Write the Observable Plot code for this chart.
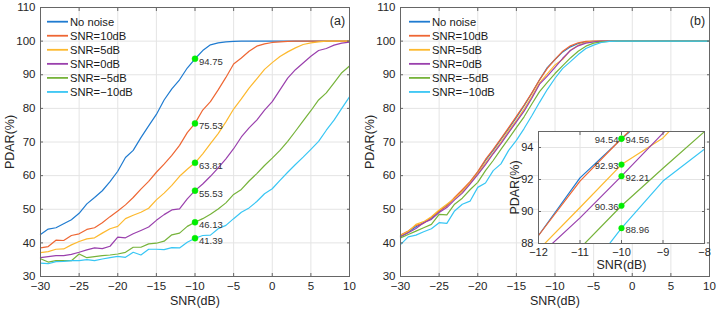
<!DOCTYPE html>
<html>
<head>
<meta charset="utf-8">
<script src="https://cdn.jsdelivr.net/npm/d3@7"></script>
<script src="https://cdn.jsdelivr.net/npm/@observablehq/plot@0.6"></script>
<style>
  body { margin: 0; background: #fff; }
  #wrap { position: relative; width: 721px; height: 310px; overflow: hidden;
          font-family: "Liberation Sans", Arial, sans-serif; color: #262626; }
</style>
</head>
<body>
<div id="wrap"></div>
<script>
// SNR sweep (dB) shared by every curve
const snr = [-30,-29,-28,-27,-26,-25,-24,-23,-22,-21,-20,-19,-18,-17,-16,-15,-14,-13,-12,-11,
             -10,-9,-8,-7,-6,-5,-4,-3,-2,-1,0,1,2,3,4,5,6,7,8,9,10];

const seriesNames  = ["No noise", "SNR=10dB", "SNR=5dB", "SNR=0dB", "SNR=\u22125dB", "SNR=\u221210dB"];
const seriesColors = ["#1f7bd0", "#ee6633", "#fdb92e", "#9a40ad", "#76b33a", "#38c6f4"];

// (a) PDAR (%)
const aNoNoise = [42.5,44.1,44.5,45.7,46.9,48.8,51.6,53.5,55.5,58.2,61.3,65.4,67.5,71.3,74.8,78.2,82.5,85.8,88.5,92.0,
                  94.75,97.2,98.9,99.5,99.8,99.95,100,100,100,100,100,100,100,100,100,100,100,100,100,100,100];
const aSnr10   = [38.5,38.9,40.8,40.7,42.2,42.7,44.0,44.5,46.0,47.8,49.5,51.3,53.5,56.0,58.3,61.0,63.4,66.0,69.0,72.8,
                  75.53,79.5,82.0,85.5,89.2,93.2,95.0,97.0,98.5,99.2,99.6,99.8,99.9,100,100,100,100,100,100,100,100];
const aSnr5    = [37.1,37.4,38.1,38.2,39.4,40.4,41.2,41.5,42.9,44.2,44.9,47.2,48.2,49.1,50.3,52.8,54.8,57.1,59.8,61.9,
                  63.81,66.5,69.5,72.5,76.0,79.8,82.8,86.0,88.8,91.6,93.6,95.4,96.8,98.0,99.0,99.5,99.8,100,100,100,100];
const aSnr0    = [35.6,35.9,36.2,36.2,36.6,37.2,37.9,38.5,38.3,39.0,41.7,41.5,42.7,43.7,44.7,46.7,48.4,49.8,50.1,53.1,
                  55.53,57.5,59.8,62.3,65.0,68.0,71.5,74.2,76.5,79.5,82.0,85.5,89.0,91.5,93.5,95.5,97.2,97.8,98.8,99.4,99.7];
const aSnrM5   = [35.3,34.3,34.7,34.7,34.7,36.7,35.6,35.9,36.2,36.4,36.7,37.2,38.7,38.7,39.7,39.9,40.5,42.4,42.9,44.9,
                  46.13,47.2,48.5,50.1,51.9,54.4,55.9,58.4,60.6,63.0,65.2,67.5,70.2,73.2,76.3,79.3,82.5,84.6,87.6,90.6,92.6];
const aSnrM10  = [34.0,33.8,34.4,34.5,34.7,34.7,35.0,34.7,35.2,35.6,36.0,35.7,37.2,36.4,38.1,38.1,38.0,38.6,38.5,40.2,
                  41.39,42.2,42.3,44.2,45.2,47.2,49.1,50.4,52.3,54.6,56.1,58.6,61.0,63.3,65.5,67.8,70.2,73.5,76.5,80.0,83.4];

// (b) PDAR (%)
const bNoNoise = [42.0,43.2,44.8,46.0,47.3,49.3,51.2,53.3,55.5,58.0,61.0,64.5,67.5,70.8,74.0,77.3,80.8,84.5,88.5,92.1,
                  94.54,96.8,98.3,99.3,99.8,99.95,100,100,100,100,100,100,100,100,100,100,100,100,100,100,100];
const bSnr10   = [42.3,43.5,45.2,45.8,47.6,49.5,51.0,53.5,55.8,58.2,61.2,64.8,67.8,71.0,74.3,77.6,81.0,84.6,88.5,91.9,
                  94.56,97.0,98.6,99.5,99.9,100,100,100,100,100,100,100,100,100,100,100,100,100,100,100,100];
const bSnr5    = [42.2,43.4,45.5,46.3,47.8,49.8,51.5,53.2,55.3,57.8,60.6,63.8,66.8,70.0,73.3,76.4,79.8,83.5,87.6,90.25,
                  92.93,94.6,97.3,98.8,99.6,99.9,100,100,100,100,100,100,100,100,100,100,100,100,100,100,100];
const bSnr0    = [41.8,43.0,44.3,46.0,47.0,49.0,50.5,52.8,54.8,57.5,60.3,63.3,66.5,69.5,72.8,76.0,79.2,83.0,87.2,89.6,
                  92.21,94.9,97.2,98.6,99.4,99.8,100,100,100,100,100,100,100,100,100,100,100,100,100,100,100];
const bSnrM5   = [41.5,42.5,43.5,44.5,45.5,48.5,48.3,51.5,53.3,55.8,58.0,61.5,64.5,67.8,71.0,74.3,77.5,81.3,85.0,87.7,
                  90.36,92.7,95.0,97.0,98.5,99.4,99.8,99.95,100,100,100,100,100,100,100,100,100,100,100,100,100];
const bSnrM10  = [39.5,41.8,42.3,43.3,44.2,46.0,45.8,49.5,51.5,52.4,56.5,57.8,61.5,63.5,67.5,70.5,74.0,77.8,81.8,85.6,
                  88.96,91.9,93.9,96.0,97.8,98.8,99.6,99.9,100,100,100,100,100,100,100,100,100,100,100,100,100];

// highlighted operating point
const markSnr = -10;

// axis ticks
const xTicksMain  = [-30,-25,-20,-15,-10,-5,0,5,10];
const yTicksMain  = [30,40,50,60,70,80,90,100,110];
const xTicksInset = [-12,-11,-10,-9,-8];
const yTicksInset = [88,90,92,94];

const FONT = "'Liberation Sans', Arial, sans-serif";
const GRID = "#e4e4e4";
const AXIS = "#666";
const LABEL_GREEN = "#00ee00";

function tidy(arrays) {
  return seriesNames.flatMap((name, i) =>
    snr.map((x, j) => ({snr: x, pdar: arrays[i][j], series: name})));
}
function marked(arrays) {
  const j = snr.indexOf(markSnr);
  return seriesNames.map((name, i) => ({snr: markSnr, pdar: arrays[i][j], series: name, k: i}));
}

const rowsA = tidy([aNoNoise, aSnr10, aSnr5, aSnr0, aSnrM5, aSnrM10]);
const rowsB = tidy([bNoNoise, bSnr10, bSnr5, bSnr0, bSnrM5, bSnrM10]);
const dotsA = marked([aNoNoise, aSnr10, aSnr5, aSnr0, aSnrM5, aSnrM10]);
const dotsB = marked([bNoNoise, bSnr10, bSnr5, bSnr0, bSnrM5, bSnrM10]);

// boxed axes with short inward ticks on all four sides
function boxAxes(xt, yt, pad) {
  const blank = () => "";
  return [
    Plot.axisX(xt, {tickSize: -3, tickPadding: pad + 3, label: null, stroke: AXIS}),
    Plot.axisY(yt, {tickSize: -3, tickPadding: pad + 3, label: null, stroke: AXIS}),
    Plot.axisX(xt, {anchor: "top", tickSize: -3, tickFormat: blank, label: null, stroke: AXIS}),
    Plot.axisY(yt, {anchor: "right", tickSize: -3, tickFormat: blank, label: null, stroke: AXIS})
  ];
}

function mainPanel(rows, extraMarks, tag) {
  return Plot.plot({
    width: 360, height: 310,
    marginLeft: 40, marginRight: 11, marginTop: 7, marginBottom: 34,
    style: {fontFamily: FONT, fontSize: "11.5px", color: "#262626", background: "transparent"},
    x: {domain: [-30, 10]},
    y: {domain: [30, 110]},
    color: {domain: seriesNames, range: seriesColors},
    marks: [
      Plot.gridX(xTicksMain, {stroke: GRID, strokeOpacity: 1}),
      Plot.gridY(yTicksMain, {stroke: GRID, strokeOpacity: 1}),
      Plot.line(rows, {x: "snr", y: "pdar", z: "series", stroke: "series", strokeWidth: 1.2}),
      ...extraMarks,
      Plot.frame({stroke: AXIS}),
      ...boxAxes(xTicksMain, yTicksMain, 5),
      Plot.text(["SNR(dB)"], {text: d => d, frameAnchor: "bottom", dy: 28, fontSize: 12.5, textAnchor: "middle"}),
      Plot.text(["PDAR(%)"], {text: d => d, frameAnchor: "left", dx: -31, rotate: -90, fontSize: 12.5, textAnchor: "middle"}),
      Plot.text([tag], {text: d => d, frameAnchor: "top-right", dx: -12, dy: 9, fontSize: 12.5, textAnchor: "middle"})
    ]
  });
}

const panelA = mainPanel(rowsA, [
  Plot.dot(dotsA, {x: "snr", y: "pdar", r: 3, fill: LABEL_GREEN, stroke: LABEL_GREEN, strokeWidth: 0.5}),
  Plot.text(dotsA, {x: "snr", y: "pdar", text: d => d.pdar.toFixed(2), dx: 4, dy: 3,
                    textAnchor: "start", fontSize: 9.5, fill: "#333"})
], "(a)");

const panelB = mainPanel(rowsB, [], "(b)");

const inset = Plot.plot({
  width: 221, height: 157,
  marginLeft: 48, marginRight: 7, marginTop: 6, marginBottom: 39,
  style: {fontFamily: FONT, fontSize: "11px", color: "#262626", background: "transparent"},
  x: {domain: [-12, -8]},
  y: {domain: [88, 95]},
  color: {domain: seriesNames, range: seriesColors},
  marks: [
    Plot.frame({fill: "white", stroke: null}),
    Plot.gridX(xTicksInset, {stroke: GRID, strokeOpacity: 1}),
    Plot.gridY(yTicksInset, {stroke: GRID, strokeOpacity: 1}),
    Plot.line(rowsB, {x: "snr", y: "pdar", z: "series", stroke: "series", strokeWidth: 1.2, clip: true}),
    Plot.dot(dotsB, {x: "snr", y: "pdar", r: 2.8, fill: LABEL_GREEN, stroke: LABEL_GREEN, strokeWidth: 0.5}),
    Plot.text(dotsB.filter(d => d.k % 2 === 0), {x: "snr", y: "pdar", text: d => d.pdar.toFixed(2),
              dx: -3, dy: 1.5, textAnchor: "end", fontSize: 9.5, fill: "#333"}),
    Plot.text(dotsB.filter(d => d.k % 2 === 1), {x: "snr", y: "pdar", text: d => d.pdar.toFixed(2),
              dx: 4, dy: 1.5, textAnchor: "start", fontSize: 9.5, fill: "#333"}),
    Plot.frame({stroke: AXIS}),
    ...boxAxes(xTicksInset, yTicksInset, 5),
    Plot.text(["SNR(dB)"], {text: d => d, frameAnchor: "bottom", dy: 25.5, fontSize: 12.5, textAnchor: "middle"}),
    Plot.text(["PDAR(%)"], {text: d => d, frameAnchor: "left", dx: -24, rotate: -90, fontSize: 12.5, textAnchor: "middle"})
  ]
});

// legend (no box), drawn over the top-left of each panel
function legend() {
  const svg = d3.create("svg")
    .attr("width", 120).attr("height", 110)
    .style("font-family", FONT).style("font-size", "11.2px");
  const row = svg.selectAll("g").data(seriesNames).join("g")
    .attr("transform", (d, i) => `translate(0,${21.7 + i * 14.05})`);
  row.append("line").attr("x1", 7).attr("x2", 28).attr("y1", 0).attr("y2", 0)
    .attr("stroke", (d, i) => seriesColors[i]).attr("stroke-width", 1.8);
  row.append("text").attr("x", 30).attr("y", 0).attr("dy", "0.36em")
    .attr("fill", "#1a1a1a").text(d => d);
  return svg.node();
}

const wrap = document.getElementById("wrap");
function place(node, left, top) {
  node.style.position = "absolute";
  node.style.left = left + "px";
  node.style.top = top + "px";
  wrap.appendChild(node);
}
place(panelA, 0, 0);
place(panelB, 360, 0);
place(inset, 490, 125);
place(legend(), 40, 0);
place(legend(), 402, 0);
</script>
</body>
</html>
